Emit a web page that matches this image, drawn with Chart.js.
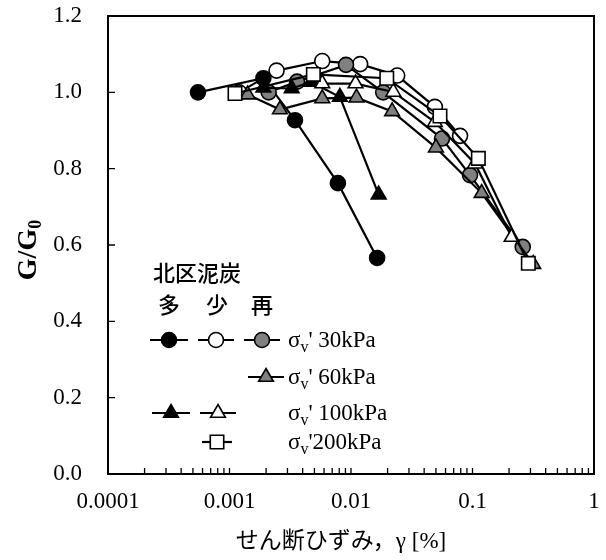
<!DOCTYPE html>
<html>
<head>
<meta charset="utf-8">
<script src="https://cdn.jsdelivr.net/npm/chart.js@4/dist/chart.umd.min.js"></script>
<style>
  html, body { margin: 0; padding: 0; background: #ffffff; }
  #wrap { width: 606px; height: 560px; }
</style>
</head>
<body>
<div id="wrap"><canvas id="chart" width="606" height="560"></canvas></div>
<script>
// Shear strain γ [%] and normalised stiffness G/G0, one pair of arrays per test series
const strain30Many  = [0.00055, 0.0019, 0.00346, 0.0078, 0.0164];
const ratio30Many   = [1.000, 1.037, 0.927, 0.762, 0.566];

const strain30Few   = [0.0012, 0.00244, 0.0058, 0.0119, 0.024, 0.049, 0.079];
const ratio30Few    = [1.000, 1.057, 1.082, 1.074, 1.044, 0.962, 0.886];

const strain30Re    = [0.0021, 0.0036, 0.0091, 0.0184, 0.0561, 0.0954, 0.259];
const ratio30Re     = [1.000, 1.028, 1.072, 1.000, 0.879, 0.783, 0.595];

const strain60Re    = [0.00141, 0.0026, 0.0058, 0.0111, 0.0218, 0.050, 0.119, 0.316];
const ratio60Re     = [0.994, 0.955, 0.984, 0.986, 0.950, 0.855, 0.736, 0.550];

const strain100Many = [0.0019, 0.00325, 0.0047, 0.0081, 0.0169];
const ratio100Many  = [1.012, 1.010, 1.027, 0.988, 0.732];

const strain100Few  = [0.0058, 0.0109, 0.0223, 0.049, 0.105, 0.21];
const ratio100Few   = [1.023, 1.023, 1.001, 0.922, 0.813, 0.621];

const strain200Few  = [0.00111, 0.0049, 0.0197, 0.054, 0.1117, 0.288];
const ratio200Few   = [0.997, 1.047, 1.037, 0.938, 0.827, 0.552];

// Axis ticks
const xDecades     = [0.0001, 0.001, 0.01, 0.1, 1];
const xTickLabels  = ['0.0001', '0.001', '0.01', '0.1', '1'];
const yTickValues  = [0, 0.2, 0.4, 0.6, 0.8, 1.0, 1.2];
const yTickLabels  = ['0.0', '0.2', '0.4', '0.6', '0.8', '1.0', '1.2'];

// Legend texts
const legendTitle   = '北区泥炭';
const legendColumns = ['多', '少', '再'];
const legendRows    = [' 30kPa', ' 60kPa', ' 100kPa', '200kPa'];

const GRAY = '#808080';
const serif = "'Liberation Serif', 'Times New Roman', serif";
const cjk = "'Noto Sans CJK JP', 'Noto Sans CJK SC', sans-serif";

function pairs(xs, ys) { return xs.map((v, i) => ({ x: v, y: ys[i] })); }

// marker appearance per series (drawing order follows this list)
const seriesDefs = [
  { label: '多 30kPa',  xs: strain30Many,  ys: ratio30Many,  style: 'circle',   fill: '#000000', r: 7.5 },
  { label: '少 30kPa',  xs: strain30Few,   ys: ratio30Few,   style: 'circle',   fill: '#ffffff', r: 7.5 },
  { label: '再 30kPa',  xs: strain30Re,    ys: ratio30Re,    style: 'circle',   fill: GRAY,      r: 7.5 },
  { label: '再 60kPa',  xs: strain60Re,    ys: ratio60Re,    style: 'triangle', fill: GRAY,      r: 8.5 },
  { label: '多 100kPa', xs: strain100Many, ys: ratio100Many, style: 'triangle', fill: '#000000', r: 8.5 },
  { label: '少 100kPa', xs: strain100Few,  ys: ratio100Few,  style: 'triangle', fill: '#ffffff', r: 8.5 },
  { label: '少 200kPa', xs: strain200Few,  ys: ratio200Few,  style: 'rect',     fill: '#ffffff', r: 9.5 }
];

const datasets = seriesDefs.map((s, i) => ({
  label: s.label,
  data: pairs(s.xs, s.ys),
  showLine: true,
  borderColor: '#000000',
  borderWidth: 2.2,
  pointStyle: s.style,
  pointRadius: s.r,
  pointHoverRadius: s.r,
  pointBackgroundColor: s.fill,
  pointBorderColor: '#000000',
  pointBorderWidth: 1.6,
  order: seriesDefs.length - i
}));

// marker shapes for the hand-laid legend, same geometry as Chart.js point styles
function marker(ctx, style, x, y, r, fill) {
  ctx.save();
  ctx.fillStyle = fill;
  ctx.strokeStyle = '#000000';
  ctx.lineWidth = 1.6;
  ctx.beginPath();
  if (style === 'circle') {
    ctx.arc(x, y, r, 0, Math.PI * 2);
  } else if (style === 'triangle') {
    let a = 0;
    ctx.moveTo(x + Math.sin(a) * r, y - Math.cos(a) * r);
    a += Math.PI * 2 / 3;
    ctx.lineTo(x + Math.sin(a) * r, y - Math.cos(a) * r);
    a += Math.PI * 2 / 3;
    ctx.lineTo(x + Math.sin(a) * r, y - Math.cos(a) * r);
    ctx.closePath();
  } else {
    const h = r * Math.SQRT1_2;
    ctx.rect(x - h, y - h, 2 * h, 2 * h);
  }
  ctx.fill();
  ctx.stroke();
  ctx.restore();
}

function legendItem(ctx, def, cx, cy, half) {
  ctx.save();
  ctx.strokeStyle = '#000000';
  ctx.lineWidth = 2.2;
  ctx.beginPath();
  ctx.moveTo(cx - half, cy);
  ctx.lineTo(cx + half, cy);
  ctx.stroke();
  ctx.restore();
  marker(ctx, def.style, cx, cy, def.r, def.fill);
}

// σv' label with subscript v
function sigmaText(ctx, x, y, rest) {
  ctx.save();
  ctx.fillStyle = '#000000';
  ctx.textBaseline = 'alphabetic';
  ctx.textAlign = 'left';
  ctx.font = '23px ' + serif;
  ctx.fillText('σ', x, y);
  let px = x + ctx.measureText('σ').width;
  ctx.font = '16px ' + serif;
  ctx.fillText('v', px, y + 5);
  px += ctx.measureText('v').width;
  ctx.font = '23px ' + serif;
  ctx.fillText("'" + rest, px, y);
  ctx.restore();
}

const decorations = {
  id: 'decorations',
  beforeDatasetsDraw(chart) {
    const { ctx, chartArea: a, scales } = chart;
    const xs = scales.x, ys = scales.y;
    ctx.save();
    ctx.strokeStyle = '#000000';
    ctx.lineWidth = 1.3;
    ctx.beginPath();
    xs.ticks.forEach(t => {
      const px = xs.getPixelForValue(t.value);
      ctx.moveTo(px, a.bottom);
      ctx.lineTo(px, a.bottom - 6);
    });
    ys.ticks.forEach(t => {
      const py = ys.getPixelForValue(t.value);
      ctx.moveTo(a.left, py);
      ctx.lineTo(a.left + 7, py);
    });
    ctx.stroke();
    ctx.lineWidth = 2;
    ctx.strokeRect(a.left, a.top, a.right - a.left, a.bottom - a.top);
    ctx.restore();
  },
  afterDraw(chart) {
    const { ctx } = chart;
    ctx.save();
    ctx.fillStyle = '#000000';

    // y-axis title G/G0
    ctx.translate(29, 250);
    ctx.rotate(-Math.PI / 2);
    ctx.font = 'bold 28px ' + serif;
    const main = 'G/G';
    const wMain = ctx.measureText(main).width;
    ctx.font = 'bold 18px ' + serif;
    const wSub = ctx.measureText('0').width;
    const start = -(wMain + wSub) / 2;
    ctx.textBaseline = 'middle';
    ctx.textAlign = 'left';
    ctx.font = 'bold 28px ' + serif;
    ctx.fillText(main, start, 0);
    ctx.font = 'bold 18px ' + serif;
    ctx.fillText('0', start + wMain, 7);
    ctx.setTransform(1, 0, 0, 1, 0, 0);

    // x-axis title
    ctx.font = '23px ' + serif + ', ' + cjk;
    ctx.textAlign = 'center';
    ctx.textBaseline = 'middle';
    ctx.fillText('せん断ひずみ，γ [%]', 341, 542);

    // legend block
    ctx.font = '500 22px ' + cjk;
    ctx.textAlign = 'left';
    ctx.fillText(legendTitle, 153, 273);
    ctx.textAlign = 'center';
    const colX = [169, 217, 262];
    legendColumns.forEach((c, i) => ctx.fillText(c, colX[i], 305));
    ctx.restore();

    const rowY = [340, 377, 413, 442];
    legendItem(ctx, seriesDefs[0], 169, rowY[0], 19);
    legendItem(ctx, seriesDefs[1], 216, rowY[0], 18);
    legendItem(ctx, seriesDefs[2], 262, rowY[0], 18);
    legendItem(ctx, seriesDefs[3], 266, rowY[1], 18);
    legendItem(ctx, seriesDefs[4], 171, rowY[2], 19);
    legendItem(ctx, seriesDefs[5], 218, rowY[2], 18);
    legendItem(ctx, seriesDefs[6], 217, rowY[3], 15);
    legendRows.forEach((t, i) => sigmaText(ctx, 288, rowY[i] + 7, t));
  }
};

new Chart(document.getElementById('chart'), {
  type: 'scatter',
  data: { datasets },
  options: {
    responsive: false,
    animation: false,
    devicePixelRatio: 1,
    layout: { padding: { left: 0, right: 12, top: 16, bottom: 0 } },
    plugins: { legend: { display: false }, tooltip: { enabled: false }, title: { display: false } },
    events: [],
    scales: {
      x: {
        type: 'logarithmic',
        min: xDecades[0],
        max: xDecades[xDecades.length - 1],
        afterBuildTicks(scale) {
          const ticks = [];
          xDecades.forEach((d, i) => {
            ticks.push({ value: d, major: true });
            if (i < xDecades.length - 1) {
              for (let m = 2; m <= 9; m++) ticks.push({ value: +(d * m).toPrecision(6) });
            }
          });
          scale.ticks = ticks;
        },
        afterFit(scale) {
          scale.height = 86;
          scale.paddingLeft = 0;
          scale.paddingRight = 0;
        },
        grid: { display: false, drawTicks: false },
        border: { display: false },
        ticks: {
          autoSkip: false,
          maxRotation: 0,
          padding: 14,
          color: '#000000',
          font: { family: serif, size: 23 },
          callback(v) {
            const k = xDecades.findIndex(d => Math.abs(d - v) / d < 1e-6);
            return k >= 0 ? xTickLabels[k] : '';
          }
        }
      },
      y: {
        type: 'linear',
        min: yTickValues[0],
        max: yTickValues[yTickValues.length - 1],
        afterBuildTicks(scale) { scale.ticks = yTickValues.map(v => ({ value: v })); },
        afterFit(scale) {
          scale.width = 108;
          scale.paddingTop = 0;
          scale.paddingBottom = 0;
        },
        grid: { display: false, drawTicks: false },
        border: { display: false },
        ticks: {
          padding: 26,
          color: '#000000',
          font: { family: serif, size: 23 },
          callback(v) {
            const k = yTickValues.findIndex(t => Math.abs(t - v) < 1e-9);
            return k >= 0 ? yTickLabels[k] : '';
          }
        }
      }
    }
  },
  plugins: [decorations]
});
</script>
</body>
</html>
